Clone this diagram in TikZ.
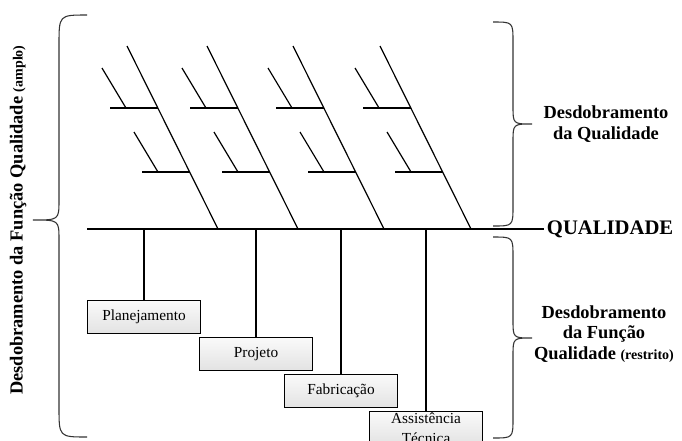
\documentclass[tikz,border=0pt]{standalone}
\usepackage{fontspec}
\setmainfont{Liberation Serif}
\usepackage{tikz}

\tikzset{
    bone/.style={line width=0.9pt},
    curly/.style={line width=0.8pt,black!80},
    stagebox/.style={draw,line width=0.8pt,top color=gray!4,bottom color=gray!22,
        minimum width=84.75pt,minimum height=24.4pt,anchor=north west,inner sep=2pt,
        font=\fontsize{11.5}{15}\selectfont,align=center},
    biglabel/.style={font=\fontsize{13.8}{15.6}\selectfont\bfseries,align=center},
    every node/.append style={black}
}

\begin{document}
\begin{tikzpicture}[x=0.75pt,y=-0.75pt]
    \clip (0,0) rectangle (682,440);

    % spine
    \coordinate (spineL) at (87,229);
    \node[biglabel,anchor=west,inner sep=2pt,font=\fontsize{15.5}{17}\selectfont\bfseries] (qual) at (544,229) {QUALIDADE};
    \draw[bone] (spineL) -- (qual.west);

    % bones of the fish
    \foreach \xb in {218,298,384,471} {
        \draw[bone] (\xb-91,46) -- (\xb,229);
        \draw[bone] (\xb-108,108) -- (\xb-60,108);
        \draw[bone] (\xb-116,68) -- (\xb-92,108);
        \draw[bone] (\xb-76,172) -- (\xb-28,172);
        \draw[bone] (\xb-84,132) -- (\xb-60,172);
    }

    % stages
    \node[stagebox] (plan) at (87,300) {Planejamento};
    \node[stagebox] (proj) at (199,337) {Projeto};
    \node[stagebox] (fab) at (284,374) {Fabricação};
    \node[stagebox,inner ysep=1pt] (assist) at (369,411) {Assistência\\Técnica};
    \foreach \s in {plan,proj,fab,assist}
        \draw[bone] (\s.north) -- (\s.north |- spineL);

    % braces
    \draw[curly] (87,15) .. controls (59,15) .. (59,45) -- (59,200)
        .. controls (59,220) .. (33,220) .. controls (59,220) .. (59,240)
        -- (59,407) .. controls (59,437) .. (87,437);
    \draw[curly] (493,22) .. controls (513,22) .. (513,42) -- (513,106)
        .. controls (513,124) .. (532,124) .. controls (513,124) .. (513,142)
        -- (513,206) .. controls (513,226) .. (493,226);
    \draw[curly] (493,237) .. controls (513,237) .. (513,257) -- (513,320)
        .. controls (513,338) .. (532,338) .. controls (513,338) .. (513,356)
        -- (513,418) .. controls (513,438) .. (493,438);

    % labels
    \node[biglabel] (dq) at (606,124) {Desdobramento\\da Qualidade};
    \node[biglabel] (dfq) at (604,334) {Desdobramento\\da Função\\Qualidade {\fontsize{10.5}{12}\selectfont(restrito)}};
    \node[biglabel,rotate=90] (dfqa) at (18,220) {Desdobramento da Função Qualidade {\fontsize{10.5}{12}\selectfont(amplo)}};
\end{tikzpicture}
\end{document}
